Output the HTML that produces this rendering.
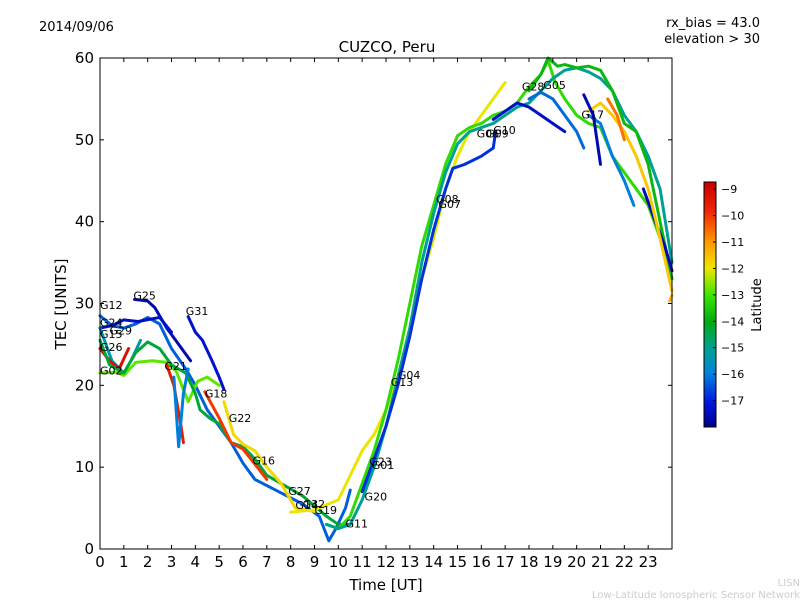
<!DOCTYPE html>
<html><head><meta charset="utf-8"><style>
body{margin:0;background:#fff;font-family:"Liberation Sans","DejaVu Sans",sans-serif}
svg text{font-family:"DejaVu Sans","Liberation Sans",sans-serif}
</style></head><body>
<svg id="c" width="800" height="600" xmlns="http://www.w3.org/2000/svg">
<rect width="800" height="600" fill="#fff"/>
<text x="39" y="31" font-size="13">2014/09/06</text>
<text x="760" y="27" font-size="13" text-anchor="end">rx_bias = 43.0</text>
<text x="760" y="43" font-size="13" text-anchor="end">elevation &gt; 30</text>
<text x="387" y="52" font-size="15" text-anchor="middle">CUZCO, Peru</text>
<text x="386" y="590" font-size="15" text-anchor="middle">Time [UT]</text>
<text x="66" y="304" font-size="15" text-anchor="middle" transform="rotate(-90 66 304)">TEC [UNITS]</text>
<text x="761" y="305" font-size="13" text-anchor="middle" transform="rotate(-90 761 305)">Latitude</text>
<text x="800" y="586" font-size="10" fill="#ccc" text-anchor="end">LISN</text>
<text x="800" y="598" font-size="10" fill="#ccc" text-anchor="end">Low-Latitude Ionospheric Sensor Network</text>
<g id="plot"></g>
<g id="cbar"></g>
</svg>
<script>
const xTicks=[0,1,2,3,4,5,6,7,8,9,10,11,12,13,14,15,16,17,18,19,20,21,22,23];
const yTicks=[0,10,20,30,40,50,60];
const cbTicks=[-9,-10,-11,-12,-13,-14,-15,-16,-17];
const latMin=-18.0, latMax=-8.73;
// satellite tracks: [time, tec] points; latitude colours
const sG12=[[0,28.5],[0.5,27.3],[1,27],[1.5,27.5],[2,28.3],[2.5,27.5],[3,24.5],[3.6,22],[4,20],[4.5,17],[5,15],[5.5,13],[6,10.5],[6.5,8.5],[7.5,7],[8.5,5.5],[9.2,4],[9.6,1],[9.9,2.5],[10.3,5],[10.5,7.2]];
const sG25=[[1.45,30.5],[2,30.3],[2.3,29.5],[2.8,27],[3.3,25],[3.8,23]];
const sG24=[[0,27],[0.5,27.3],[1,28],[1.6,27.8],[2.5,28.3],[3,26.5]];
const sG31=[[3.7,28.4],[4,26.5],[4.3,25.5],[4.7,23],[5,21],[5.2,19.5]];
const sG29=[[0,27],[0.5,23],[1,21.5],[1.3,23],[1.7,25.5]];
const sG26=[[0,24.5],[0.4,23],[0.8,22],[1.2,24.5]];
const sG02=[[0,21.5],[0.7,21.6],[1,21.2],[1.5,22.8],[2.2,23],[2.8,22.8],[3.2,21.7],[3.7,18],[4.1,20.5],[4.5,21],[5,20]];
const sG15=[[0,25.5],[0.4,22.5],[1,21.5],[1.5,24],[2,25.3],[2.5,24.5],[3,22.5],[3.6,21.5],[4,19],[4.2,17],[4.6,16],[5,15.3],[5.5,13],[6,12.5],[6.5,11],[7,9],[7.6,8],[8.5,6.5],[9.5,4],[10,3],[10.5,3]];
const sG21=[[2.8,22.5],[3.1,20],[3.4,15],[3.5,13]];
const sDip=[[3.1,21],[3.3,12.5],[3.5,19],[3.7,22]];
const sG18=[[4.4,19.2],[5,16],[5.5,13],[6,12.2],[6.6,10],[7,8.5]];
const sG22=[[5.2,18],[5.6,14],[6,12.8],[6.5,12],[7,10],[7.6,8],[8.2,5],[9,4.6]];
const sA=[[8,4.5],[9,4.8],[10,6],[10.5,9],[11,12],[11.5,14],[12,17],[12.5,21],[13,27],[13.5,33],[14,38],[14.5,44],[15,48],[15.5,51],[16,53],[16.5,55],[17,57]];
const sB=[[9.5,3],[10,2.5],[10.5,4],[11,8],[11.5,12],[12,17],[12.5,23],[13,30],[13.5,37],[14,42],[14.5,47],[15,50.5],[15.5,51.5],[16,52],[16.5,53],[17,53.5],[17.5,54.5],[18,56.5],[18.5,58],[18.8,59.7],[19.1,57],[19.5,55],[20,53],[20.5,52],[21,51.5],[21.5,48],[22,46],[22.5,44],[23,42],[23.5,38],[24,34]];
const sC=[[9.5,3],[10,2.5],[10.5,3],[11,6],[11.5,10],[12,15],[12.5,21],[13,27],[13.5,35],[14,41],[14.5,46],[15,49.5],[15.5,51],[16,51.5],[16.5,52],[17,53],[17.5,54],[18,54.5],[18.5,56],[19,57.5],[19.5,58.5],[20,58.8],[20.5,58.3],[21,57.5],[21.5,56],[22,53],[22.5,51],[23,48],[23.5,44],[24,35]];
const sTop=[[18,56],[18.5,58],[18.8,60],[19.2,59],[19.5,59.2],[20,58.8],[20.5,59],[21,58.5],[21.5,56],[22,52],[22.5,51],[23,47],[23.5,40],[24,33]];
const sD=[[11,7],[11.5,11],[12,15],[12.5,20],[13,26],[13.5,33],[14,39],[14.5,44],[14.8,46.5],[15.3,47],[16,48],[16.5,49],[16.6,51]];
const sG17=[[18,55],[18.5,55.8],[19,55],[19.5,53],[20,51],[20.3,49]];
const sRB=[[22.8,44],[23.3,40],[23.7,37],[24,34]];
const sG=[[20.5,53],[21,52],[21.5,48],[22,45],[22.4,42]];
const sH=[[20.5,53.5],[21,54.5],[21.5,53],[22,51],[22.5,48],[23,44],[23.5,38],[24,31.5]];
const sI=[[21.3,55],[21.7,53],[22,50]];
const sUB=[[16.5,52.5],[17,53.5],[17.5,54.5],[18,54],[18.5,53],[19,52],[19.5,51]];
const sE=[[20.3,55.5],[20.7,53],[21,47]];
const sTail=[[23.9,30.3],[24,31]];
const tracks=[sG12,sG25,sG24,sG31,sG29,sG26,sG02,sG15,sG21,sDip,sG18,sG22,sA,sB,sC,sTop,sD,sG17,sRB,sG,sH,sI,sUB,sE,sTail];
const trackLat=[-16.3,-17.6,-17.3,-17.2,-15.3,-9.2,-12.8,-14.3,-9.5,-16,-10,-11.8,-12,-13.2,-15,-13.8,-16.8,-16.2,-17.5,-16,-11.6,-10.6,-17.3,-17.6,-11.4];
const labels=[["G12",0,29.3],["G25",1.4,30.5],["G24",0,27.2],["G29",0.4,26.2],["G15",0,25.8],["G26",0,24.2],["G02",0,21.3],["G21",2.7,21.9],["G31",3.6,28.6],["G18",4.4,18.5],["G22",5.4,15.5],["G16",6.4,10.3],["G27",7.9,6.6],["G14",8.2,4.9],["G32",8.5,5],["G19",9,4.3],["G11",10.3,2.6],["G20",11.1,5.9],["G23",11.3,10.2],["G01",11.4,9.8],["G04",12.5,20.8],["G13",12.2,19.9],["G08",14.1,42.3],["G07",14.2,41.7],["G06",15.8,50.3],["G09",16.2,50.3],["G10",16.5,50.7],["G28",17.7,56],["G05",18.6,56.2],["G17",20.2,52.6]];
const X0=100,X1=672,Y0=549,Y1=58;
const sx=t=>X0+(X1-X0)*t/24, sy=v=>Y0-(Y0-Y1)*v/60;
const stops=[[0,0,0,140],[0.1,0,20,220],[0.22,0,130,220],[0.32,0,160,150],[0.43,0,170,20],[0.54,60,230,0],[0.65,240,230,0],[0.76,255,150,0],[0.88,240,40,0],[1,200,0,0]];
function jet(f){f=Math.min(Math.max(f,0),1);for(let i=1;i<stops.length;i++){if(f<=stops[i][0]){const a=stops[i-1],b=stops[i],u=(f-a[0])/(b[0]-a[0]);return `rgb(${Math.round(a[1]+(b[1]-a[1])*u)},${Math.round(a[2]+(b[2]-a[2])*u)},${Math.round(a[3]+(b[3]-a[3])*u)})`;}}return 'rgb(200,0,0)';}
const latF=l=>(l-latMin)/(latMax-latMin);
const NS='http://www.w3.org/2000/svg';
const P=document.getElementById('plot');
function mk(tag,at,parent){const e=document.createElementNS(NS,tag);for(const k in at)e.setAttribute(k,at[k]);parent.appendChild(e);return e;}
tracks.forEach((tr,i)=>{
 const e=mk('polyline',{points:tr.map(p=>sx(p[0])+','+sy(p[1])).join(' '),fill:'none',stroke:jet(latF(trackLat[i])),'stroke-width':3,'stroke-linejoin':'round','stroke-linecap':'round'},P);
 
 
});
labels.forEach(l=>{
 const e=mk('text',{x:sx(l[1]),y:sy(l[2]),'font-size':11},P);e.textContent=l[0];
 
 
});
const fr=mk('rect',{x:X0,y:Y1,width:X1-X0,height:Y0-Y1,fill:'none',stroke:'#000','stroke-width':1},P);


xTicks.forEach(t=>{const x=sx(t);
 mk('line',{x1:x,x2:x,y1:Y0,y2:Y0-4,stroke:'#000'},P);mk('line',{x1:x,x2:x,y1:Y1,y2:Y1+4,stroke:'#000'},P);
 const e=mk('text',{x:x,y:Y0+18,'font-size':15,'text-anchor':'middle'},P);e.textContent=t;
 
 
});
yTicks.forEach(v=>{const y=sy(v);
 mk('line',{x1:X0,x2:X0+4,y1:y,y2:y,stroke:'#000'},P);mk('line',{x1:X1,x2:X1-4,y1:y,y2:y,stroke:'#000'},P);
 const e=mk('text',{x:X0-6,y:y+5,'font-size':15,'text-anchor':'end'},P);e.textContent=v;
 
 
});
const C=document.getElementById('cbar');
const CX=704,CW=12,CT=182,CB=427;
for(let y=CT;y<CB;y++){mk('rect',{x:CX,y:y,width:CW,height:1.2,fill:jet(1-(y-CT)/(CB-CT))},C);}
const cb=mk('rect',{x:CX,y:CT,width:CW,height:CB-CT,fill:'none',stroke:'#000'},C);


cbTicks.forEach(l=>{const y=CT+(latMax-l)/(latMax-latMin)*(CB-CT);
 mk('line',{x1:CX+CW-3,x2:CX+CW,y1:y,y2:y,stroke:'#000'},C);
 const e=mk('text',{x:CX+CW+5,y:y+4,'font-size':11},C);e.textContent='\u2212'+(-l);
 
 
});
</script>
</body></html>
